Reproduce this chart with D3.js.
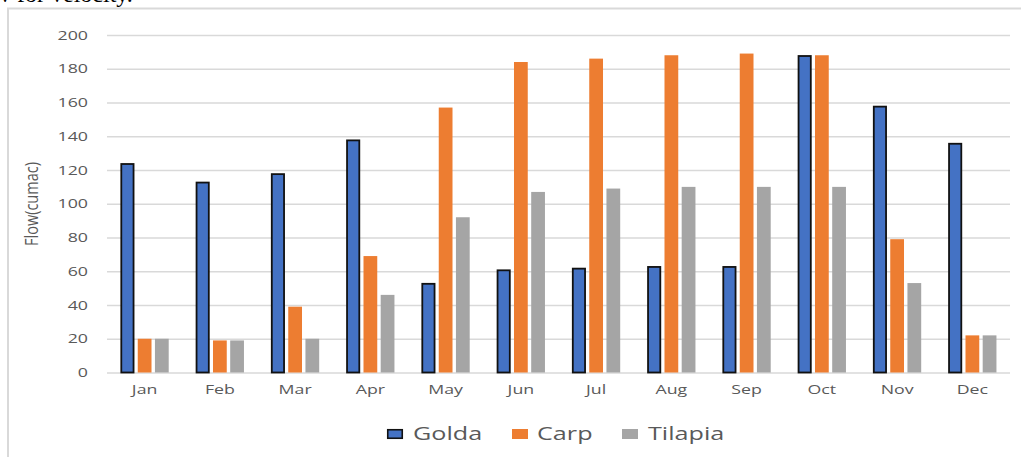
<!DOCTYPE html>
<html>
<head>
<meta charset="utf-8">
<script src="https://cdn.jsdelivr.net/npm/d3@7"></script>
<style>
  html, body { margin: 0; padding: 0; background: #fff; }
  svg { display: block; }
</style>
</head>
<body>
<svg id="chart" width="1021" height="457"></svg>
<script>
// Monthly flow (cumac) per species
const months = ["Jan","Feb","Mar","Apr","May","Jun","Jul","Aug","Sep","Oct","Nov","Dec"];
const seriesNames = ["Golda","Carp","Tilapia"];
const golda   = [124, 113, 118, 138, 53, 61, 62, 63, 63, 188, 158, 136];
const carp    = [20, 19, 39, 69, 157, 184, 186, 188, 189, 188, 79, 22];
const tilapia = [20, 19, 20, 46, 92, 107, 109, 110, 110, 110, 53, 22];
const yTicks  = [0, 20, 40, 60, 80, 100, 120, 140, 160, 180, 200];
const colors  = ["#4472C4", "#ED7D31", "#A5A5A5"];

const seriesValues = [golda, carp, tilapia];
const rows = months.map((m, i) => ({
  month: m,
  values: seriesNames.map((s, k) => ({ name: s, value: seriesValues[k][i], k }))
}));

const svg = d3.select("#chart");
const FONT = "'Open Sans', sans-serif";
const SX = 1.42; // horizontal stretch of the text

// text stretched horizontally about its anchor point
function stretchedText(parent, x, y, str, opts) {
  const g = parent.append("g").attr("transform", `translate(${x},${y}) scale(${opts.sx || SX},1)`);
  return g.append("text")
    .attr("x", 0).attr("y", 0)
    .attr("text-anchor", opts.anchor || "start")
    .attr("font-family", FONT)
    .attr("font-size", opts.size)
    .attr("fill", opts.fill || "#595959")
    .text(str);
}

// caption line above the chart frame
svg.append("text")
  .attr("x", -1).attr("y", 2)
  .attr("font-family", "'Liberation Serif', 'Times New Roman', serif")
  .attr("font-size", 24)
  .attr("fill", "#000")
  .text("v for velocity.");

// chart frame
svg.append("rect")
  .attr("x", 8).attr("y", 8.5)
  .attr("width", 1030).attr("height", 470)
  .attr("fill", "#fff")
  .attr("stroke", "#d9d9d9")
  .attr("stroke-width", 2);

const plot = { left: 107, right: 1010, top: 35, bottom: 372.5 };

const y = d3.scaleLinear().domain([0, 200]).range([plot.bottom, plot.top]);
const x0 = d3.scaleBand().domain(months).range([plot.left, plot.right]).paddingInner(0.36).paddingOuter(0.18);
const x1 = d3.scaleBand().domain(seriesNames).range([0, x0.bandwidth()]).paddingInner(0.2);

// gridlines
const grid = svg.append("g")
  .attr("transform", `translate(${plot.left},0)`)
  .call(d3.axisLeft(y).tickValues(yTicks).tickSize(-(plot.right - plot.left)).tickFormat(""));
grid.select(".domain").remove();
grid.selectAll(".tick line").attr("stroke", "#d9d9d9").attr("stroke-width", 1.5);

// y tick labels
const yLab = svg.append("g");
yTicks.forEach(t => {
  stretchedText(yLab, 88, y(t) + 4.5, String(t), { size: 12.5, anchor: "end" });
});

// x tick labels
const xLab = svg.append("g");
months.forEach(m => {
  stretchedText(xLab, x0(m) + x0.bandwidth() / 2, 393.5, m, { size: 12.5, anchor: "middle" });
});

// y axis title
svg.append("g")
  .attr("transform", `translate(38,204) rotate(-90)`)
  .append("text")
  .attr("text-anchor", "middle")
  .attr("font-family", FONT)
  .attr("font-size", 18.5)
  .attr("fill", "#595959")
  .attr("textLength", 84)
  .attr("lengthAdjust", "spacingAndGlyphs")
  .text("Flow(cumac)");

// bars
const groups = svg.append("g").selectAll("g")
  .data(rows).join("g")
  .attr("transform", d => `translate(${x0(d.month)},0)`);

groups.selectAll("rect")
  .data(d => d.values).join("rect")
  .attr("x", d => x1(d.name) + (d.k === 0 ? 0.75 : 0))
  .attr("y", d => y(d.value) + (d.k === 0 ? 0.75 : 0))
  .attr("width", d => x1.bandwidth() - (d.k === 0 ? 1.5 : 0))
  .attr("height", d => y(0) - y(d.value) - (d.k === 0 ? 0.75 : 0))
  .attr("fill", d => colors[d.k])
  .attr("stroke", d => d.k === 0 ? "#111" : "none")
  .attr("stroke-width", 1.8);

// legend
const legendItems = [
  { name: "Golda", sx: 387, tx: 413 },
  { name: "Carp", sx: 512, tx: 537 },
  { name: "Tilapia", sx: 622, tx: 648 }
];
const legend = svg.append("g");
legendItems.forEach((it, k) => {
  legend.append("rect")
    .attr("x", it.sx + (k === 0 ? 0.75 : 0)).attr("y", 429 + (k === 0 ? 0.75 : 0))
    .attr("width", 16 - (k === 0 ? 1.5 : 0)).attr("height", 10 - (k === 0 ? 1.5 : 0))
    .attr("fill", colors[k])
    .attr("stroke", k === 0 ? "#111" : "none")
    .attr("stroke-width", 1.6);
  stretchedText(legend, it.tx, 440, it.name, { size: 18, anchor: "start", sx: 1.4 });
});
</script>
</body>
</html>
